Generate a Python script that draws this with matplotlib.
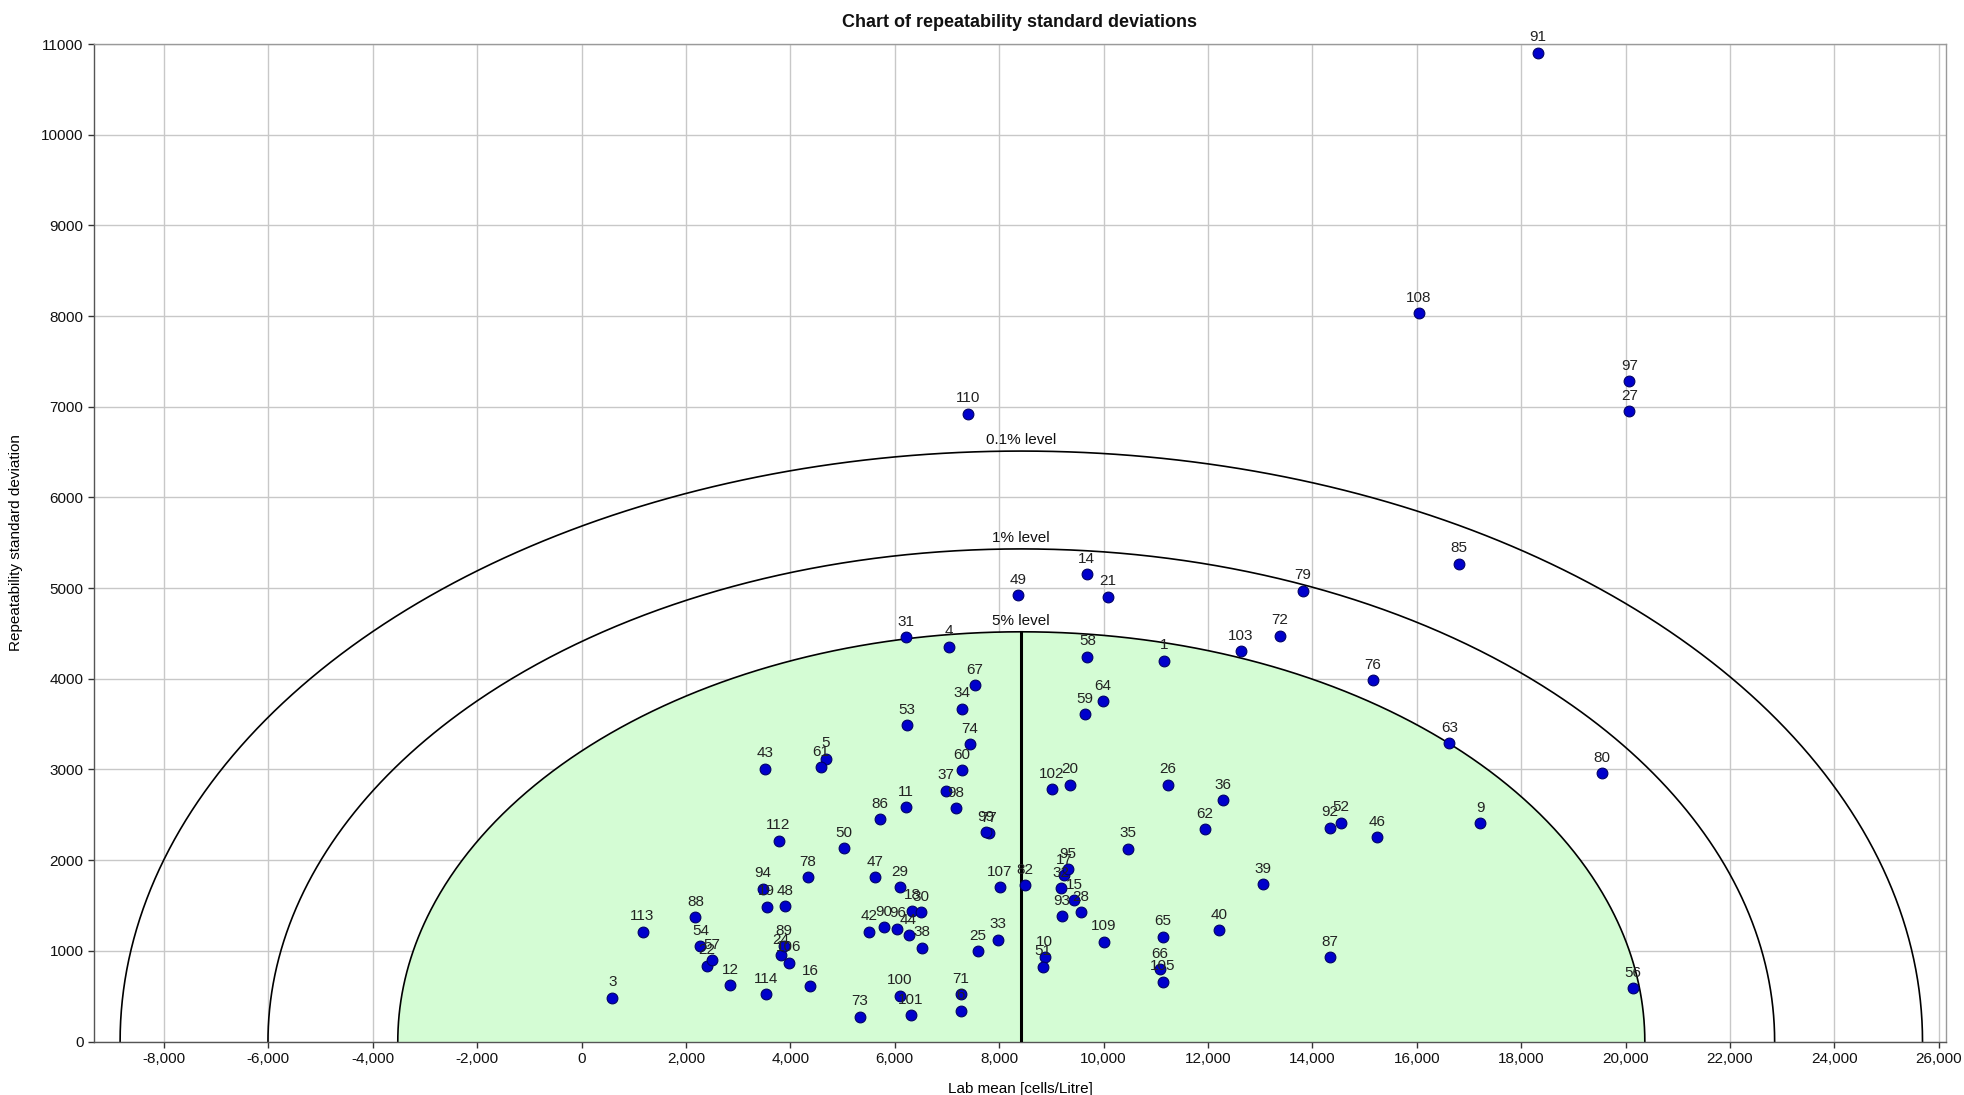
import numpy as np
import matplotlib
matplotlib.use("Agg")
import matplotlib.pyplot as plt
from matplotlib import font_manager
from matplotlib.ticker import FuncFormatter

# --- fonts -------------------------------------------------------------
def pick_font(names):
    for n in names:
        try:
            font_manager.findfont(n, fallback_to_default=False)
            return n
        except Exception:
            continue
    return "DejaVu Sans"

FONT = pick_font(["Liberation Sans Narrow", "Liberation Sans", "Arial"])
plt.rcParams["font.family"] = [FONT, "DejaVu Sans"]

# --- data --------------------------------------------------------------
lab_ids = ["1", "3", "4", "5", "6", "9", "10", "11", "12", "14", "15", "16",
           "17", "18", "19", "20", "21", "22", "24", "25", "26", "27", "28",
           "29", "30", "31", "32", "33", "34", "35", "36", "37", "38", "39",
           "40", "42", "43", "44", "46", "47", "48", "49", "50", "51", "52",
           "53", "54", "56", "57", "58", "59", "60", "61", "62", "63", "64",
           "65", "66", "67", "71", "72", "73", "74", "76", "77", "78", "79",
           "80", "82", "85", "86", "87", "88", "89", "90", "91", "92", "93",
           "94", "95", "96", "97", "98", "99", "100", "101", "102", "103",
           "105", "106", "107", "108", "109", "110", "112", "113", "114"]

lab_mean = [11161, 593, 7031, 4674, 7261, 17222, 8875, 6207, 2847, 9674, 9437,
            4380, 9246, 6334, 3544, 9360, 10077, 2406, 3818, 7586, 11238,
            20075, 9565, 6104, 6494, 6207, 9182, 7981, 7286, 10472, 12291,
            6973, 6513, 13058, 12209, 5510, 3511, 6264, 15236, 5619, 3901,
            8364, 5025, 8843, 14546, 6238, 2279, 20148, 2502, 9693, 9648,
            7280, 4584, 11935, 16628, 9987, 11136, 11085, 7541, 7261, 13372,
            5338, 7433, 15165, 7800, 4329, 13824, 19546, 8492, 16812, 5715,
            14341, 2183, 3882, 5791, 18324, 14341, 9207, 3479, 9310, 6053,
            20075, 7165, 7745, 6098, 6308, 9004, 12625, 11136, 3971, 8008,
            16044, 10006, 7406, 3774, 1168, 3537]

repeat_sd = [4199, 483, 4353, 3118, 340, 2409, 928, 2585, 623, 5151, 1560,
             608, 1836, 1442, 1486, 2832, 4904, 836, 954, 994, 2832, 6953,
             1424, 1703, 1424, 4460, 1689, 1123, 3669, 2126, 2663, 2765, 1034,
             1736, 1226, 1211, 3008, 1174, 2251, 1810, 1490, 4923, 2130, 825,
             2413, 3490, 1053, 587, 899, 4243, 3611, 2993, 3023, 2339, 3291,
             3754, 1155, 799, 3931, 524, 4474, 274, 3277, 3986, 2300, 1810,
             4971, 2960, 1722, 5268, 2450, 928, 1369, 1053, 1262, 10903, 2357,
             1384, 1685, 1898, 1244, 7285, 2571, 2306, 505, 292, 2780, 4305,
             660, 869, 1703, 8030, 1100, 6925, 2214, 1211, 520]

# acceptance ellipses (upper halves) around the assigned value
center_mean = 8425
level_names = ["5% level", "1% level", "0.1% level"]
half_width = [11945, 14432, 17265]
half_height = [4518, 5432, 6511]

x_ticks = list(range(-8000, 26001, 2000))
y_ticks = list(range(0, 11001, 1000))

# --- figure ------------------------------------------------------------
W, H = 1964, 1095
fig = plt.figure(figsize=(W / 100, H / 100), dpi=100)
ax = fig.add_axes([94 / W, (H - 1041.5) / H, (1946 - 94) / W, (1041.5 - 44) / H])
ax.set_xlim(-9340, 26140)
ax.set_ylim(0, 11000)

ax.set_xticks(x_ticks)
ax.set_yticks(y_ticks)
ax.xaxis.set_major_formatter(FuncFormatter(lambda v, p: f"{int(v):,}"))
ax.yaxis.set_major_formatter(FuncFormatter(lambda v, p: f"{int(v)}"))
ax.grid(True, color="#c8c8c8", linewidth=1.0, zorder=0)
ax.set_axisbelow(True)
ax.tick_params(axis="both", labelsize=11, length=4, width=1, colors="#333333",
               labelcolor="#111111")
for s in ax.spines.values():
    s.set_color("#9a9a9a")
    s.set_linewidth(1.0)
ax.spines["left"].set_color("#555555")
ax.spines["bottom"].set_color("#555555")

t = np.linspace(0, np.pi, 721)
for i, (name, a, b) in enumerate(zip(level_names, half_width, half_height)):
    xe = center_mean + a * np.cos(t)
    ye = b * np.sin(t)
    if i == 0:
        ax.fill_between(xe, 0, ye, color="#d4fcd4", zorder=1, linewidth=0)
    ax.plot(xe, ye, color="black", linewidth=1.2, zorder=2)
    ax.annotate(name, (center_mean, b), xytext=(0, 3), textcoords="offset points",
                ha="center", va="bottom", fontsize=11, color="#111111", zorder=6)

# vertical line at the assigned value
ax.plot([center_mean, center_mean], [0, half_height[0]], color="black",
        linewidth=2.2, zorder=3)

ax.scatter(lab_mean, repeat_sd, s=60, color="#0000cc", edgecolors="#000066",
           linewidths=0.8, zorder=4)
for lid, xv, yv in zip(lab_ids, lab_mean, repeat_sd):
    ax.annotate(lid, (xv, yv), xytext=(0, 6), textcoords="offset points",
                ha="center", va="bottom", fontsize=11, color="#222222", zorder=5)

ax.set_title("Chart of repeatability standard deviations", fontsize=13,
             fontweight="bold", pad=12, color="#111111")
ax.set_xlabel("Lab mean [cells/Litre]", fontsize=11)
ax.xaxis.set_label_coords(0.5, -0.041)
ax.set_ylabel("Repeatability standard deviation", fontsize=11)
ax.yaxis.set_label_coords(-0.0386, 0.5)

fig.savefig("out.png", dpi=100)
